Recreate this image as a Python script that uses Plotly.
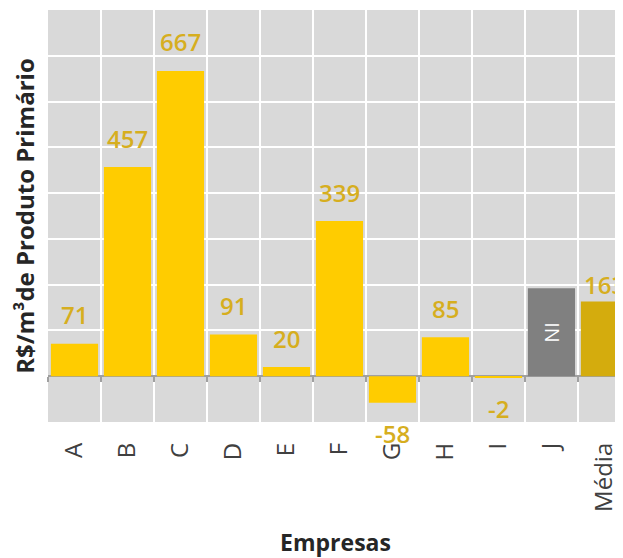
import plotly.graph_objects as go

categorias = ["A", "B", "C", "D", "E", "F", "G", "H", "I", "J", "Média"]
valores = [71, 457, 667, 91, 20, 339, -58, 85, -2, 192, 163]
rotulos = ["71", "457", "667", "91", "20", "339", "-58", "85", "-2", "NI", "163"]

AMARELO = "#FFCC00"
OURO = "#D4AC0D"
CINZA = "#808080"
TXT_OURO = "#D6AE1F"

cores = []
for c, r in zip(categorias, rotulos):
    if r == "NI":
        cores.append(CINZA)
    elif c == "Média":
        cores.append(OURO)
    else:
        cores.append(AMARELO)

fig = go.Figure()
fig.add_trace(go.Bar(
    x=categorias, y=valores, marker=dict(color=cores, line=dict(width=0)),
    hoverinfo="skip", showlegend=False,
))
# helper trace for zero-line tick axis
fig.add_trace(go.Scatter(x=categorias, y=valores, xaxis="x2", mode="markers",
                         marker=dict(opacity=0), hoverinfo="skip", showlegend=False))

anots = []
for c, v, r in zip(categorias, valores, rotulos):
    if r == "NI":
        anots.append(dict(x=c, y=v / 2, text=r, showarrow=False, textangle=-90,
                          xanchor="center", yanchor="middle",
                          font=dict(color="white", size=20, family="Open Sans")))
        continue
    if v >= 0:
        shift = 17 if c == "Média" else 29
    else:
        shift = -31
    anots.append(dict(x=c, y=v, text=r, showarrow=False, xanchor="center",
                      yanchor="middle", yshift=shift,
                      font=dict(color=TXT_OURO, size=24, family="Open Sans", weight=600)))

RANGE_X = [-0.5, 10.35]

fig.update_layout(
    width=615, height=550, autosize=False,
    margin=dict(l=40, r=0, t=2, b=136),
    paper_bgcolor="white", plot_bgcolor="#D9D9D9",
    bargap=0.11,
    annotations=anots,
    xaxis=dict(
        type="category", categoryorder="array", categoryarray=categorias,
        range=RANGE_X, tickson="boundaries", showgrid=True,
        gridcolor="white", gridwidth=2, ticks="", tickangle=-90,
        ticklabelstandoff=15,
        tickfont=dict(size=24, color="#404040", family="Open Sans"),
        title=dict(text="Empresas", standoff=24,
                   font=dict(size=23, color="#262626", family="Open Sans", weight="bold")),
        showline=False, zeroline=False,
    ),
    xaxis2=dict(
        type="category", categoryorder="array", categoryarray=categorias,
        range=RANGE_X, overlaying="x", anchor="free", position=100 / 900,
        side="bottom", tickson="boundaries", ticks="outside", ticklen=5,
        tickwidth=2, tickcolor="#A0A0A0", showticklabels=False, showgrid=False,
        showline=False, zeroline=False,
    ),
    yaxis=dict(
        range=[-100, 800], dtick=100, showgrid=True, gridcolor="white", gridwidth=2,
        showticklabels=False, ticks="",
        zeroline=True, zerolinecolor="#A0A0A0", zerolinewidth=2,
        title=dict(text="R$/m³de Produto Primário", standoff=6,
                   font=dict(size=24, color="#262626", family="Open Sans", weight="bold")),
    ),
)

fig.write_html("out.html")
